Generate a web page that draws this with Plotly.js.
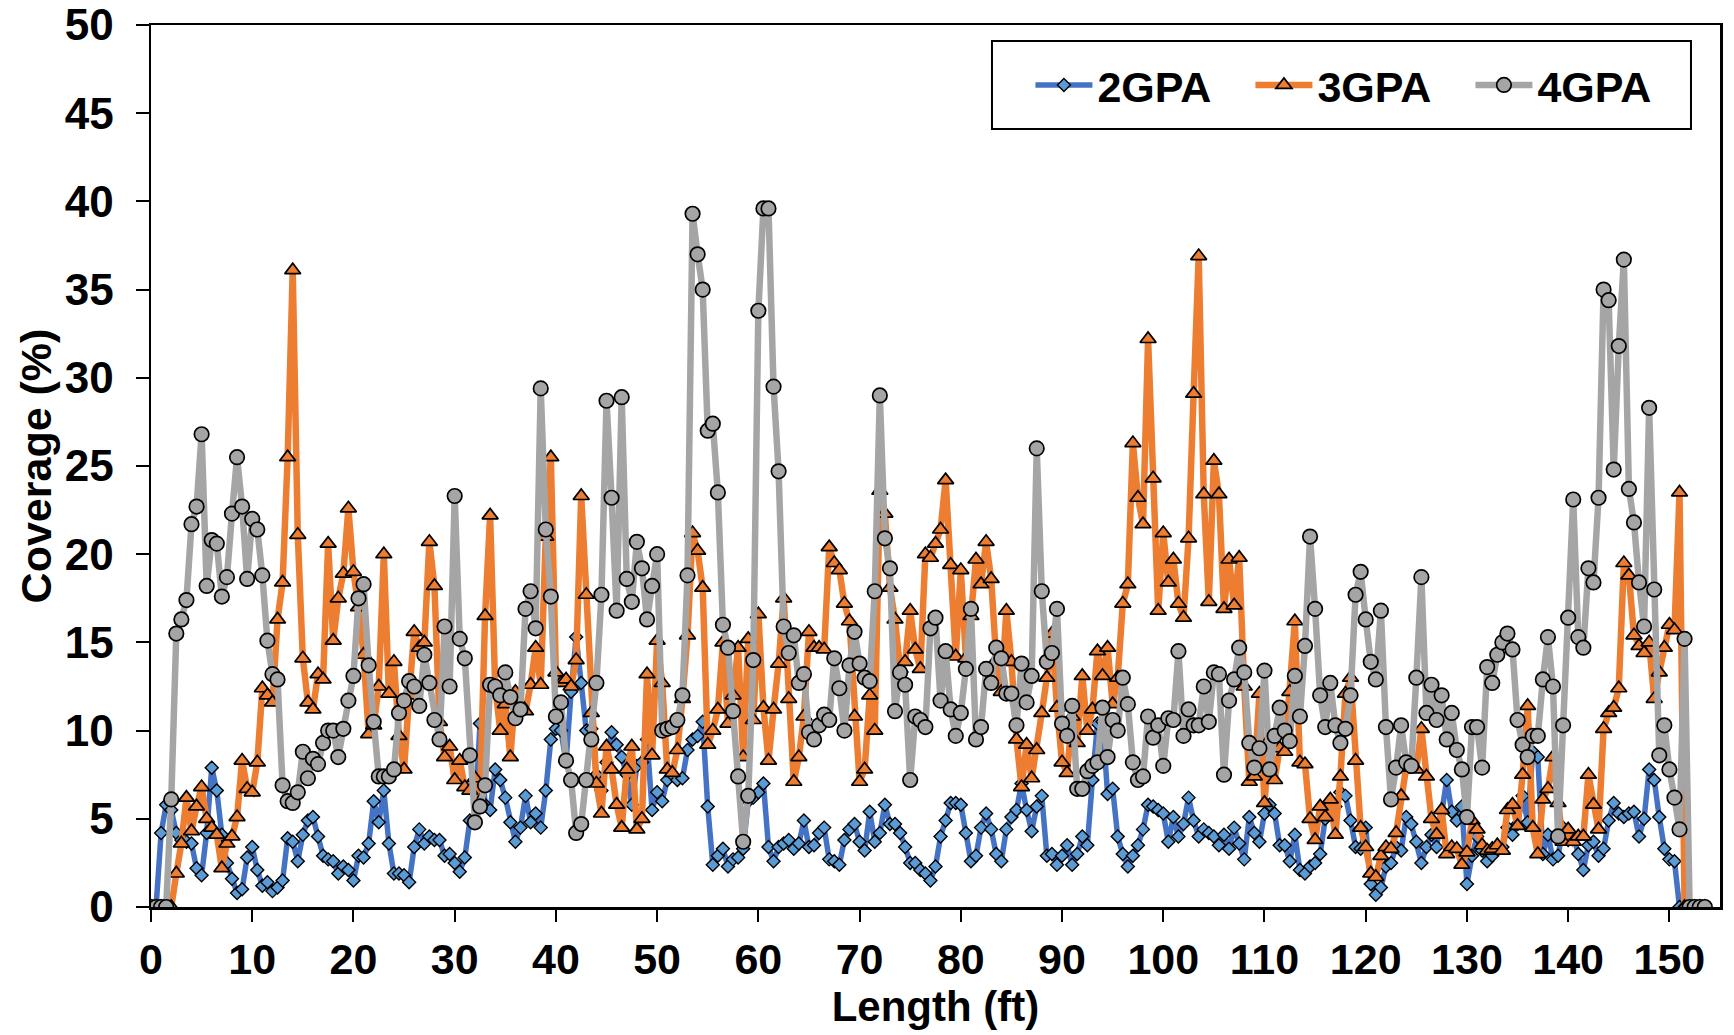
<!DOCTYPE html>
<html>
<head>
<meta charset="utf-8">
<script src="https://cdn.plot.ly/plotly-3.0.1.min.js"></script>
<style>
html,body{margin:0;padding:0;background:#ffffff;}
#chart{width:1734px;height:1035px;}
</style>
</head>
<body>
<div id="chart"></div>
<script>
// Length along the specimen (ft)
const lengthFt = [
0,0.5,1,1.5,2,2.5,3,3.5,4,4.5,5,5.5,6,6.5,7,7.5,8,8.5,9,9.5,
10,10.5,11,11.5,12,12.5,13,13.5,14,14.5,15,15.5,16,16.5,17,17.5,18,18.5,19,19.5,
20,20.5,21,21.5,22,22.5,23,23.5,24,24.5,25,25.5,26,26.5,27,27.5,28,28.5,29,29.5,
30,30.5,31,31.5,32,32.5,33,33.5,34,34.5,35,35.5,36,36.5,37,37.5,38,38.5,39,39.5,
40,40.5,41,41.5,42,42.5,43,43.5,44,44.5,45,45.5,46,46.5,47,47.5,48,48.5,49,49.5,
50,50.5,51,51.5,52,52.5,53,53.5,54,54.5,55,55.5,56,56.5,57,57.5,58,58.5,59,59.5,
60,60.5,61,61.5,62,62.5,63,63.5,64,64.5,65,65.5,66,66.5,67,67.5,68,68.5,69,69.5,
70,70.5,71,71.5,72,72.5,73,73.5,74,74.5,75,75.5,76,76.5,77,77.5,78,78.5,79,79.5,
80,80.5,81,81.5,82,82.5,83,83.5,84,84.5,85,85.5,86,86.5,87,87.5,88,88.5,89,89.5,
90,90.5,91,91.5,92,92.5,93,93.5,94,94.5,95,95.5,96,96.5,97,97.5,98,98.5,99,99.5,
100,100.5,101,101.5,102,102.5,103,103.5,104,104.5,105,105.5,106,106.5,107,107.5,108,108.5,109,109.5,
110,110.5,111,111.5,112,112.5,113,113.5,114,114.5,115,115.5,116,116.5,117,117.5,118,118.5,119,119.5,
120,120.5,121,121.5,122,122.5,123,123.5,124,124.5,125,125.5,126,126.5,127,127.5,128,128.5,129,129.5,
130,130.5,131,131.5,132,132.5,133,133.5,134,134.5,135,135.5,136,136.5,137,137.5,138,138.5,139,139.5,
140,140.5,141,141.5,142,142.5,143,143.5,144,144.5,145,145.5,146,146.5,147,147.5,148,148.5,149,149.5,
150,150.5,151,151.5,152,152.5,153,153.5
];

// Coverage (%) - 2GPA
const gpa2 = [
0,0,4.2,5.8,5.5, 4.2,3.8,3.7,3.6,2.2, 1.8,4.2,7.9,6.6,4.1, 2.5,1.6,0.8,1.0,2.8, 3.4,2.1,1.2,1.4,0.9, 1.1,1.5,3.9,3.7,2.6, 4.1,4.9,5.1,4.0,2.9, 2.7,2.6,1.9,2.3,
2.1,1.5,2.9,2.8,3.6, 6.0,4.8,6.6,3.6,1.9, 1.9,1.8,1.4,3.4,4.4, 3.6,4.0,3.8,3.8,2.9, 3.0,2.5,2.0,2.8,4.9, 4.9,10.4,5.8,5.5,7.8, 7.2,6.2,4.8,3.7,4.5, 6.3,4.8,5.3,4.5,
6.6,9.5,10.1,10.0,8.2, 12.2,15.3,12.7,10.0,10.1, 7.5,6.6,8.2,9.9,9.2, 8.5,7.5,5.8,8.0,8.2, 9.5,5.5,6.5,6.0,7.2, 7.5,7.2,7.3,8.9,9.5, 9.7,10.5,5.7,2.4,2.9, 3.3,2.3,2.7,2.8,3.3,
6.0,6.2,6.5,7.0,3.4, 2.6,3.4,3.6,3.8,3.3, 3.6,4.9,3.4,3.5,4.2, 4.5,2.7,2.6,2.4,3.8, 4.4,4.7,3.7,3.2,5.4, 3.7,4.2,5.8,4.7,4.7, 4.2,3.4,2.5,2.5,2.1, 1.9,1.5,2.3,4.0,
4.9,5.9,5.9,5.8,4.2, 2.6,2.9,4.5,5.3,4.4, 3.0,2.6,4.4,5.1,5.5, 7.0,5.5,4.3,5.7,6.3, 2.9,3.0,2.4,2.9,3.5, 2.4,3.0,4.0,3.5,7.2, 10.4,10.5,6.4,6.7,4.0, 3.0,2.3,2.9,3.5,4.4,
5.8,5.7,5.5,5.3,3.7, 5.1,4.0,4.7,6.2,4.9, 4.0,4.4,4.2,4.0,3.5, 4.1,3.3,4.5,3.6,2.7, 5.1,4.2,3.7,5.3,5.8, 5.3,3.5,3.5,2.6,4.1, 2.1,1.9,2.3,2.5,3.0, 5.0,5.9,5.7,6.5,
6.3,4.9,3.4,3.3,4.5, 1.3,0.7,1.1,2.3,2.5, 3.4,3.2,5.1,4.7,3.7, 2.5,3.4,4.1,3.4,5.4, 7.2,5.4,4.9,5.7,1.3, 2.9,4.0,3.2,2.6,2.9, 3.3,3.4,4.5,4.1,4.7, 6.3,4.8,8.8,8.5,3.0,
4.1,2.7,2.9,4.5,3.8, 4.0,3.0,2.1,3.5,3.7, 2.9,3.3,4.9,5.9,5.3, 5.1,5.3,5.4,4.0,5.0, 7.8,7.2,5.1,3.3,2.7, 2.6,0,0,0,0, 0,0
];

// Coverage (%) - 3GPA
const gpa3 = [
0,0,0,0,0, 1.9,3.6,6.2,4.3,5.7, 6.8,5.0,4.5,4.1,2.2, 3.6,4.0,5.1,8.3,6.7, 6.5,8.2,12.4,12.0,11.6, 16.3,18.4,25.5,36.1,21.1, 14.1,11.6,11.2,13.2,12.9, 20.6,15.1,17.5,18.9,
22.6,19.0,17.0,14.3,9.8, 10.3,12.5,20.0,12.1,13.9, 9.7,7.8,12.0,15.6,14.7, 15.0,20.7,18.2,10.5,8.5, 9.1,7.2,8.3,6.8,6.6, 7.3,6.0,16.5,22.2,12.5, 10.0,11.5,8.5,12.2,11.5, 11.1,12.6,14.7,12.6,
21.0,25.5,13.3,12.7,12.9, 12.5,14.0,23.3,17.7,11.0, 7.0,5.3,9.1,7.8,5.8, 4.5,7.8,9.1,4.4,5.0, 13.2,8.6,15.1,12.7,7.8, 7.6,8.9,11.8,15.4,21.2, 20.2,18.1,9.2,10.0,11.2, 15.0,10.4,12.0,14.7,8.5,
15.2,10.6,16.6,11.3,8.3, 11.2,13.8,17.5,11.8,7.1, 8.5,10.8,15.6,14.7,14.7, 14.6,20.4,19.5,19.1,17.2, 16.2,10.8,7.1,7.8,12.0, 10.0,23.6,22.3,18.1,16.3, 13.5,13.9,16.8,14.6,13.5, 20.0,19.8,20.6,21.4,
24.2,19.4,14.2,19.1,14.1, 16.5,19.7,18.3,20.7,18.6, 14.0,12.2,16.8,13.9,9.5, 6.8,9.2,7.3,8.9,11.0, 13.0,15.5,11.3,8.2,7.6, 10.8,9.3,13.1,10.0,11.2, 14.5,13.1,14.7,11.5,13.0, 17.2,18.3,26.3,23.2,21.7,
32.2,24.3,16.8,21.2,18.4, 19.7,17.2,16.4,20.9,29.1, 36.9,23.4,17.3,25.3,23.4, 16.9,19.7,17.1,19.8,12.5, 7.1,7.4,12.1,5.9,9.5, 7.2,9.0,8.8,12.2,16.2, 8.2,8.1,5.0,3.8,5.7, 5.1,6.1,4.1,7.4,
12.1,13.0,8.3,4.5,3.4, 1.9,1.7,2.9,3.4,3.3, 4.2,6.3,7.9,7.9,7.8, 10.1,7.4,5.0,4.1,5.5, 3.0,3.4,3.3,2.4,3.1, 4.9,4.4,3.5,3.2,3.3, 3.5,3.2,5.5,5.8,4.6, 7.5,11.4,4.5,3.0,6.1,
6.7,8.5,5.9,3.7,4.4, 3.7,4.0,4.0,7.5,5.8, 4.4,10.1,11.0,11.3,12.4, 19.5,18.8,15.4,14.8,14.4, 15.0,11.8,13.3,14.7,16.0, 15.7,23.5,0,0,0, 0,0
];

// Coverage (%) - 4GPA
const gpa4 = [
0,0,0,0,6.1, 15.5,16.3,17.4,21.7,22.7, 26.8,18.2,20.8,20.6,17.6, 18.7,22.3,25.5,22.7,18.6, 22.0,21.4,18.8,15.1,13.2, 12.9,6.9,6.0,5.9,6.5, 8.8,7.3,8.4,8.1,9.3, 10.0,10.0,8.5,10.1,
11.7,13.1,17.5,18.3,13.7, 10.5,7.4,7.4,7.4,7.8, 11.0,11.7,12.8,12.5,11.4, 14.3,12.7,10.6,9.5,15.9, 12.5,23.3,15.2,14.1,8.6, 4.8,5.7,6.9,12.6,12.5, 12.0,13.3,11.9,10.7,11.2, 16.9,17.9,15.8,29.4,
21.4,17.6,10.8,11.6,8.3, 7.2,4.2,4.7,7.2,9.5, 12.7,17.7,28.7,23.2,16.8, 28.9,18.6,17.3,20.7,19.2, 16.3,18.2,20.0,10.0,10.1, 10.2,10.6,12.0,18.8,39.3, 37.0,35.0,27.0,27.4,23.5, 16.0,14.7,11.1,7.4,3.7,
6.3,14.0,33.8,39.6,39.6, 29.5,24.7,15.9,14.4,15.4, 12.7,13.2,9.9,9.5,10.3, 10.9,10.6,14.1,12.4,10.0, 13.7,15.6,13.8,13.0,12.8, 17.9,29.0,20.9,19.2,11.1, 13.3,12.6,7.2,10.8,10.6, 10.2,15.8,16.4,11.7,
14.5,11.2,9.7,11.0,13.5, 16.9,9.5,10.2,13.5,12.7, 14.7,14.1,12.1,12.1,10.3, 13.8,11.6,13.1,26.0,17.9, 13.9,14.4,16.9,10.4,9.7, 11.4,6.7,6.7,7.7,8.0, 8.2,11.3,8.5,10.6,10.0, 13.0,11.5,8.2,7.2,7.4,
10.8,9.6,10.3,8.0,10.7, 10.6,14.5,9.7,11.2,10.3, 10.3,12.5,10.5,13.3,13.2, 7.5,11.7,12.9,14.7,13.3, 9.3,7.9,9.0,13.4,7.8, 9.7,11.3,10.0,9.4,13.1, 10.8,14.8,21.0,16.9,12.0, 10.2,12.7,10.3,9.3,
10.1,12.0,17.7,19.0,16.3, 13.9,12.9,16.8,10.2,6.1, 7.9,10.3,8.2,8.0,13.0, 18.7,11.0,12.6,10.6,12.0, 9.5,11.0,8.9,7.8,5.1, 10.2,10.2,7.9,13.6,12.7, 14.3,15.0,15.5,14.6,10.6, 9.2,8.5,9.7,9.7,12.9,
15.3,12.5,4.0,10.3,16.4, 23.1,15.3,14.7,19.2,18.4, 23.2,35.0,34.4,24.8,31.8, 36.7,23.7,21.8,18.4,15.9, 28.3,18.0,8.6,10.3,7.8, 6.2,4.4,15.2,0,0, 0,0
];

const seriesNames = ['2GPA', '3GPA', '4GPA'];
const xTickVals = [0,10,20,30,40,50,60,70,80,90,100,110,120,130,140,150];
const yTickVals = [0,5,10,15,20,25,30,35,40,45,50];
const xTitle = 'Length (ft)';
const yTitle = 'Coverage (%)';

const FONT = '"Liberation Sans", Arial, Helvetica, sans-serif';

const traces = [
  {
    x: lengthFt, y: gpa2, name: seriesNames[0], type: 'scatter', mode: 'lines+markers',
    line: {color: '#4472C4', width: 5.5},
    marker: {symbol: 'diamond', size: 10, color: '#5B9BD5', line: {color: '#000000', width: 1.4}}
  },
  {
    x: lengthFt, y: gpa3, name: seriesNames[1], type: 'scatter', mode: 'lines+markers',
    line: {color: '#ED7D31', width: 6.5},
    marker: {symbol: 'triangle-up', size: 14, color: '#ED7D31', line: {color: '#000000', width: 1.7}}
  },
  {
    x: lengthFt, y: gpa4, name: seriesNames[2], type: 'scatter', mode: 'lines+markers',
    line: {color: '#A5A5A5', width: 6.5},
    marker: {symbol: 'circle', size: 14.5, color: '#A5A5A5', line: {color: '#000000', width: 1.7}}
  }
];

const layout = {
  width: 1734, height: 1035,
  margin: {l: 151, r: 14, t: 25, b: 128},
  paper_bgcolor: '#ffffff', plot_bgcolor: '#ffffff',
  font: {family: FONT, color: '#000000'},
  showlegend: true,
  legend: {
    x: 0.5605, y: 0.932, xanchor: 'left', yanchor: 'middle',
    orientation: 'h',
    borderwidth: 0, bgcolor: 'rgba(0,0,0,0)',
    font: {family: FONT, size: 43, color: '#000000', weight: 'bold'},
    itemwidth: 57,
    entrywidth: 148, entrywidthmode: 'pixels'
  },
  shapes: [{
    type: 'rect', xref: 'paper', yref: 'paper',
    x0: 0.5360, x1: 0.9815, y0: 0.8821, y1: 0.9819,
    line: {color: '#000000', width: 2}, fillcolor: '#ffffff', layer: 'above'
  }],
  xaxis: {
    range: [0, 155], tickmode: 'array', tickvals: xTickVals,
    ticks: 'outside', ticklen: 12, tickwidth: 2, tickcolor: '#000000',
    showline: true, linecolor: '#000000', linewidth: 2.5, mirror: true,
    showgrid: false, zeroline: false,
    tickfont: {family: FONT, size: 43, color: '#000000', weight: 'bold'},
    ticklabelstandoff: 1,
    title: {text: xTitle, font: {family: FONT, size: 42, color: '#000000', weight: 'bold'}, standoff: 6},
    automargin: false
  },
  yaxis: {
    range: [0, 50], tickmode: 'array', tickvals: yTickVals,
    ticks: 'outside', ticklen: 13, tickwidth: 2, tickcolor: '#000000',
    showline: true, linecolor: '#000000', linewidth: 2.5, mirror: true,
    showgrid: false, zeroline: false,
    tickfont: {family: FONT, size: 44, color: '#000000', weight: 'bold'},
    ticklabelstandoff: 13,
    title: {text: yTitle, font: {family: FONT, size: 43, color: '#000000', weight: 'bold'}, standoff: 0},
    automargin: false
  }
};

Plotly.newPlot('chart', traces, layout, {displayModeBar: false, staticPlot: true});
</script>
</body>
</html>
